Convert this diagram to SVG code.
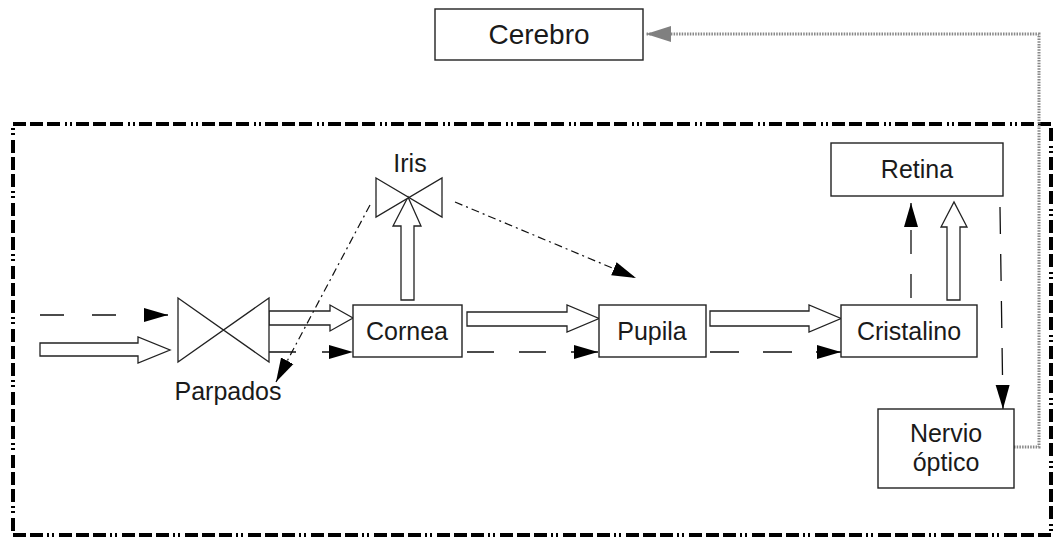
<svg xmlns="http://www.w3.org/2000/svg" width="1054" height="541" viewBox="0 0 1054 541">
<style>
.box{fill:#fff;stroke:#222;stroke-width:1.4}
.lbl{font-family:"Liberation Sans",Arial,sans-serif;font-size:25px;fill:#1a1a1a;text-anchor:middle}
.hollow{fill:#fff;stroke:#222;stroke-width:1.3;stroke-linejoin:miter}
.dash{fill:none;stroke:#111;stroke-width:1.3}
.dd{fill:none;stroke:#111;stroke-width:1.2;stroke-dasharray:8 4 2 4}
.valve{fill:#fff;stroke:#222;stroke-width:1.3}
</style>
<defs>
<marker id="ah" markerUnits="userSpaceOnUse" markerWidth="26" markerHeight="16" refX="24" refY="8" orient="auto">
<path d="M0,1 L24,8 L0,15 Z" fill="#000"/>
</marker>
<marker id="ahg" markerUnits="userSpaceOnUse" markerWidth="26" markerHeight="18" refX="25" refY="9" orient="auto">
<path d="M0,1 L25,9 L0,17 Z" fill="#808080"/>
</marker>
</defs>
<rect x="13" y="124" width="1038" height="411" fill="none" stroke="#000" stroke-width="4" stroke-dasharray="13 4 13 4 13 5 2 3 2 4"/>
<g id="connectors">
<path class="hollow" d="M40,343 H138 V337 L170,350 L138,363 V356 H40 Z"/>
<path class="hollow" d="M269,311 H330 V305 L353,318 L330,331 V325 H269 Z"/>
<path class="hollow" d="M467,312 H567 V305 L599,318.5 L567,332 V326 H467 Z"/>
<path class="hollow" d="M710,311 H809 V305 L841,318.5 L809,332 V326 H710 Z"/>
<path class="hollow" d="M401,300 V226 H393 L408,197 L421,226 H414 V300 Z"/>
<path class="hollow" d="M947,300 V227 H941 L954,202 L967,227 H960 V300 Z"/>
<path class="dash" d="M40,315 H168" stroke-dasharray="24 28" marker-end="url(#ah)"/>
<path class="dash" d="M269,352 H353" stroke-dasharray="27 26" marker-end="url(#ah)"/>
<path class="dash" d="M467,352 H598" stroke-dasharray="27 25" marker-end="url(#ah)"/>
<path class="dash" d="M710,352 H841" stroke-dasharray="29 24" marker-end="url(#ah)"/>
<path class="dash" d="M911,298 V203" stroke-dasharray="24 20" marker-end="url(#ah)"/>
<path class="dash" d="M1000,207 L1003,409" stroke-dasharray="27 20" marker-end="url(#ah)"/>
<path class="dd" d="M370,205 L276,382" marker-end="url(#ah)"/>
<path class="dd" d="M455,202 L636,278" marker-end="url(#ah)"/>
<path d="M1014,447 H1039 V34 H646" fill="none" stroke="#888" stroke-width="3" stroke-dasharray="1.5 1.2" marker-end="url(#ahg)"/>
</g>
<g id="cerebro"><rect class="box" x="435" y="9" width="208" height="51"/><text class="lbl" x="539" y="44" style="font-size:28px">Cerebro</text></g>
<g id="parpados"><path class="valve" d="M178,298 L269,362 L269,298 L178,362 Z"/><text class="lbl" x="228" y="400">Parpados</text></g>
<g id="iris"><path class="valve" d="M376,178 L442,217 L442,178 L376,217 Z"/><text class="lbl" x="410" y="172">Iris</text></g>
<g id="cornea"><rect class="box" x="353" y="305" width="109" height="52"/><text class="lbl" x="407" y="340">Cornea</text></g>
<g id="pupila"><rect class="box" x="599" y="305" width="107" height="52"/><text class="lbl" x="652" y="340">Pupila</text></g>
<g id="cristalino"><rect class="box" x="841" y="305" width="136" height="52"/><text class="lbl" x="909" y="340">Cristalino</text></g>
<g id="retina"><rect class="box" x="831" y="143" width="172" height="53"/><text class="lbl" x="917" y="178">Retina</text></g>
<g id="nervio"><rect class="box" x="878" y="409" width="136" height="79"/><text class="lbl" x="946" y="442">Nervio</text><text class="lbl" x="946" y="471">óptico</text></g>
</svg>
